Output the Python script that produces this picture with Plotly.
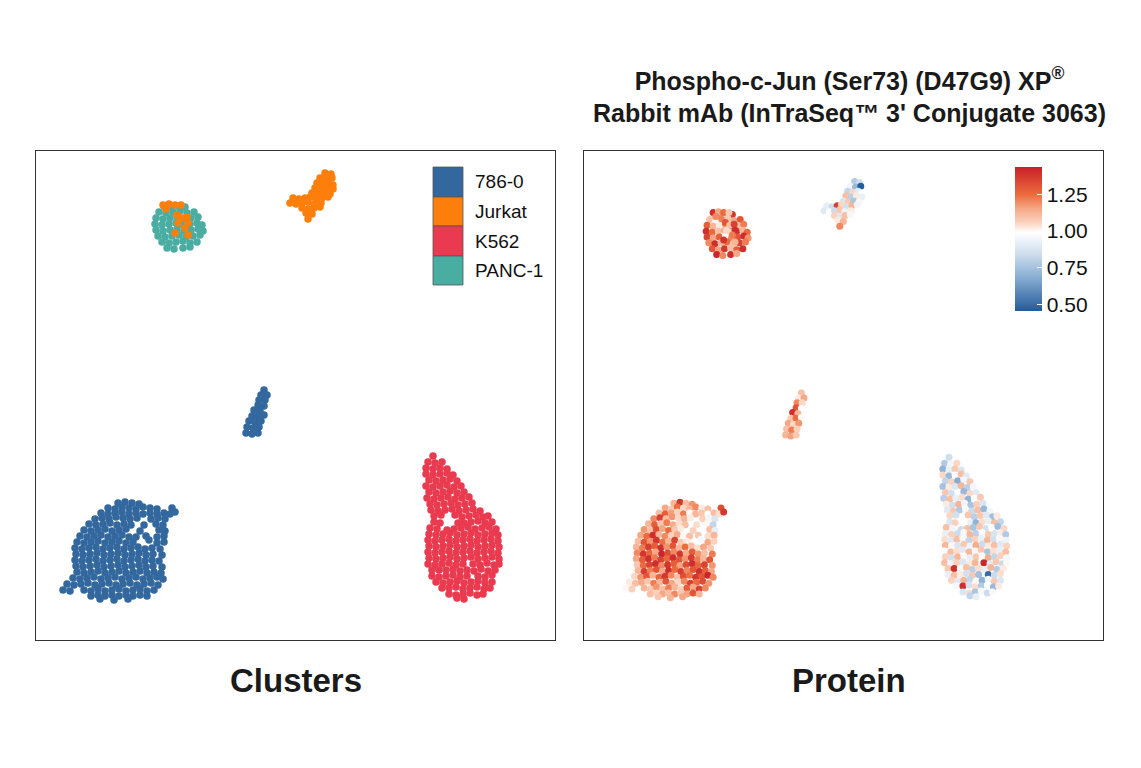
import pandas as pd
import plotly.graph_objects as go

# Cluster names and colours (legend order)
clusters = ["786-0", "Jurkat", "K562", "PANC-1"]
cluster_colors = ["#33689f", "#fd7f0b", "#e93a4f", "#4aada2"]

# Colorbar ticks for the protein panel
protein_ticks = [0.50, 0.75, 1.00, 1.25]
protein_min, protein_max = 0.455, 1.435

# Cells: (umap_1, umap_2, protein signal)
cells_786_main = [
    (82, 352, 1.12), (89, 351, 1.38), (96, 352, 1.10), (103, 353, 1.18),
    (72, 357, 1.15), (79, 358, 1.08), (86, 356, 1.25), (93, 357, 1.05), (100, 358, 1.12), (107, 356, 1.20), (114, 357, 1.02), (121, 358, 1.10), (136, 357, 1.32),
    (65, 362, 1.10), (72, 363, 1.28), (79, 362, 1.16), (86, 361, 1.06), (93, 363, 1.22), (100, 362, 1.00), (107, 363, 1.12), (114, 362, 1.08), (121, 363, 0.98), (128, 362, 1.10), (134, 363, 1.04), (139, 361, 1.38),
    (59, 368, 1.20), (66, 367, 1.35), (73, 368, 1.10), (80, 366, 1.18), (87, 367, 1.05), (94, 368, 1.12), (101, 367, 1.02), (115, 368, 1.06), (122, 367, 0.95), (129, 368, 0.88),
    (53, 373, 1.12), (60, 374, 1.28), (67, 373, 1.08), (74, 372, 1.22), (81, 374, 1.14), (88, 373, 1.04), (95, 374, 1.10), (108, 374, 1.04), (120, 373, 1.00), (127, 374, 0.82),
    (48, 379, 1.18), (55, 380, 1.10), (62, 379, 1.32), (69, 378, 1.15), (76, 380, 1.25), (83, 379, 1.08), (90, 378, 1.02), (104, 380, 1.06), (123, 379, 1.10), (129, 380, 0.92),
    (44, 385, 1.15), (51, 386, 1.25), (58, 385, 1.40), (65, 384, 1.12), (72, 386, 1.20), (79, 385, 1.06), (86, 384, 1.14), (93, 386, 1.00), (100, 386, 1.10), (110, 385, 1.08), (121, 386, 1.04), (128, 385, 1.12),
    (41, 391, 1.10), (48, 392, 1.30), (55, 391, 1.18), (62, 390, 1.38), (69, 392, 1.24), (76, 391, 1.12), (83, 390, 1.35), (90, 392, 1.08), (97, 391, 1.02), (113, 389, 0.96), (121, 392, 1.15), (128, 391, 1.06),
    (39, 397, 1.12), (46, 398, 1.22), (53, 397, 1.36), (60, 396, 1.28), (67, 398, 1.40), (74, 397, 1.18), (81, 396, 1.30), (88, 398, 1.12), (95, 397, 1.25), (102, 396, 1.10), (109, 398, 1.04), (116, 397, 1.15), (124, 398, 1.08),
    (40, 403, 1.20), (47, 404, 1.38), (54, 403, 1.26), (61, 402, 1.15), (68, 404, 1.42), (75, 403, 1.32), (82, 402, 1.20), (89, 404, 1.38), (96, 403, 1.14), (103, 402, 1.28), (110, 404, 1.18), (117, 403, 1.10), (126, 404, 1.22),
    (39, 409, 1.15), (46, 410, 1.28), (53, 409, 1.40), (60, 408, 1.22), (67, 410, 1.35), (74, 409, 1.26), (81, 408, 1.40), (88, 410, 1.30), (95, 409, 1.18), (102, 408, 1.36), (109, 410, 1.22), (116, 409, 1.12), (123, 410, 1.30),
    (40, 415, 1.08), (47, 416, 1.25), (54, 415, 1.34), (61, 414, 1.40), (68, 416, 1.20), (75, 415, 1.38), (82, 414, 1.28), (89, 416, 1.16), (96, 415, 1.32), (103, 414, 1.40), (110, 416, 1.26), (117, 415, 1.35), (126, 416, 1.18),
    (41, 421, 1.12), (48, 422, 1.36), (55, 421, 1.22), (62, 420, 1.30), (69, 422, 1.15), (76, 421, 1.40), (83, 420, 1.25), (90, 422, 1.36), (97, 421, 1.20), (104, 420, 1.30), (111, 422, 1.40), (118, 421, 1.28), (125, 422, 1.15),
    (37, 427, 1.05), (44, 428, 1.18), (51, 427, 1.30), (58, 426, 1.12), (65, 428, 1.26), (72, 427, 1.38), (79, 426, 1.20), (86, 428, 1.10), (93, 427, 1.32), (100, 426, 1.24), (107, 428, 1.38), (114, 427, 1.30), (121, 426, 1.42), (127, 428, 1.20),
    (31, 433, 1.02), (38, 434, 1.10), (45, 433, 1.15), (52, 432, 1.08), (59, 434, 1.22), (66, 433, 1.12), (73, 432, 1.30), (80, 434, 1.15), (87, 433, 1.05), (94, 432, 1.20), (101, 434, 1.36), (108, 433, 1.25), (115, 432, 1.32), (122, 434, 1.18),
    (27, 439, 1.00), (34, 440, 1.06), (48, 439, 1.12), (55, 440, 1.08), (62, 438, 1.18), (69, 440, 1.10), (76, 439, 1.22), (83, 438, 1.12), (90, 440, 1.06), (97, 439, 1.28), (104, 438, 1.15), (111, 440, 1.35), (118, 439, 1.20),
    (55, 445, 1.10), (62, 444, 1.06), (69, 445, 1.15), (76, 444, 1.10), (83, 445, 1.20), (90, 444, 1.08), (97, 445, 1.16), (104, 444, 1.30), (111, 445, 1.12),
    (64, 448, 1.08), (78, 449, 1.12), (92, 448, 1.15),
]

cells_786_small = [
    (228, 239, 1.10), (225, 244, 1.02), (231, 244, 1.15), (223, 249, 1.20), (229, 249, 1.05),
    (222, 254, 1.30), (228, 255, 0.98), (218, 259, 1.40), (224, 260, 1.12), (216, 265, 1.08),
    (222, 265, 1.25), (228, 264, 1.00), (213, 270, 1.15), (219, 271, 1.05), (225, 270, 1.18),
    (211, 276, 1.10), (217, 277, 1.22), (223, 276, 1.06), (210, 282, 1.12), (216, 283, 1.16), (222, 282, 1.08),
]

cells_k562 = [
    (397, 305, 0.85),
    (392, 311, 0.78), (399, 312, 0.95), (406, 311, 1.05),
    (390, 317, 0.70), (397, 318, 0.92), (404, 317, 1.08), (411, 318, 0.88),
    (390, 323, 1.05), (397, 324, 0.72), (404, 323, 0.98), (411, 322, 1.10), (417, 324, 0.90),
    (393, 329, 0.82), (400, 330, 1.06), (407, 329, 0.68), (414, 328, 0.95), (421, 330, 1.08),
    (390, 335, 0.75), (397, 336, 1.02), (404, 335, 0.88), (411, 334, 1.12), (418, 336, 0.80), (425, 335, 0.96),
    (393, 341, 1.08), (400, 342, 0.85), (407, 341, 0.97), (414, 340, 0.72), (421, 342, 1.05), (428, 341, 0.90),
    (391, 347, 0.80), (398, 348, 1.10), (405, 347, 0.92), (412, 346, 1.04), (419, 348, 0.70), (426, 347, 0.98), (433, 346, 1.08),
    (394, 353, 1.02), (401, 354, 0.86), (408, 353, 1.12), (415, 352, 0.95), (422, 354, 0.76), (429, 353, 1.06), (436, 352, 0.88),
    (395, 359, 0.90), (402, 360, 1.08), (409, 359, 0.78), (416, 358, 1.00), (423, 360, 0.84), (430, 359, 1.10), (437, 358, 0.72), (444, 360, 0.95),
    (398, 365, 1.05), (405, 364, 0.86), (419, 364, 1.08), (426, 366, 0.80), (433, 365, 1.08), (440, 364, 0.90), (447, 366, 0.74), (452, 365, 1.02),
    (398, 371, 0.88), (404, 372, 1.06), (422, 372, 0.92), (428, 372, 0.70), (435, 371, 1.04), (442, 370, 0.92), (449, 372, 1.10), (456, 371, 0.82),
    (394, 377, 1.10), (401, 378, 0.95), (411, 379, 0.84), (418, 378, 1.10), (425, 377, 0.76), (432, 376, 1.08), (439, 378, 0.86), (446, 377, 0.98), (453, 376, 0.74), (460, 378, 1.05),
    (393, 383, 0.92), (400, 384, 1.06), (407, 383, 0.84), (414, 382, 1.00), (421, 384, 1.12), (428, 383, 0.80), (435, 382, 0.98), (442, 384, 1.08), (449, 383, 0.88), (456, 382, 1.02), (462, 384, 0.78),
    (392, 389, 1.04), (399, 390, 0.90), (406, 389, 1.10), (413, 388, 0.96), (420, 390, 0.82), (427, 389, 1.06), (434, 388, 0.92), (441, 390, 1.12), (448, 389, 0.86), (455, 388, 1.00), (462, 390, 0.94),
    (393, 395, 1.12), (400, 396, 1.00), (407, 395, 0.88), (414, 394, 1.08), (421, 396, 0.94), (428, 395, 1.14), (435, 394, 0.84), (442, 396, 1.02), (449, 395, 1.10), (456, 394, 0.90), (463, 396, 1.06),
    (392, 401, 0.98), (399, 402, 1.10), (406, 401, 1.04), (413, 400, 0.90), (420, 402, 1.12), (427, 401, 0.96), (434, 400, 1.08), (441, 402, 0.76), (448, 401, 1.04), (455, 400, 0.92), (462, 402, 1.10),
    (393, 407, 1.06), (400, 408, 0.86), (407, 407, 1.12), (414, 406, 1.00), (421, 408, 0.92), (428, 407, 1.08), (435, 406, 0.98), (442, 408, 1.14), (449, 407, 0.82), (456, 406, 1.06), (463, 408, 0.96),
    (392, 413, 1.10), (399, 414, 0.94), (406, 413, 1.06), (413, 412, 0.88), (420, 414, 1.02), (427, 413, 1.12), (437, 413, 1.42), (444, 414, 0.90), (451, 412, 1.08), (458, 414, 0.84), (463, 413, 1.00),
    (396, 419, 1.08), (403, 419, 1.40), (410, 419, 0.96), (417, 418, 1.10), (424, 420, 0.80), (431, 419, 1.04), (438, 420, 0.92), (445, 418, 1.12), (452, 420, 0.78), (459, 419, 1.02),
    (396, 425, 0.92), (403, 426, 1.10), (410, 425, 1.02), (417, 424, 0.86), (424, 426, 1.08), (431, 425, 0.74), (442, 425, 0.50), (449, 426, 0.84), (456, 424, 1.04),
    (400, 431, 1.06), (407, 432, 0.90), (414, 431, 1.12), (421, 430, 0.82), (428, 432, 1.00), (435, 431, 0.70), (442, 430, 0.94), (449, 432, 1.08), (456, 431, 0.88),
    (406, 437, 0.96), (413, 437, 1.40), (420, 436, 0.86), (427, 438, 1.04), (434, 437, 0.78), (441, 436, 0.98), (448, 438, 0.72), (454, 437, 1.02),
    (413, 443, 0.88), (420, 444, 1.04), (427, 443, 0.76), (434, 442, 0.96), (441, 444, 0.84), (447, 443, 1.00),
    (421, 447, 0.82), (428, 448, 0.92),
]

cells_panc1 = [
    (128, 55, 1.12), (135, 56, 1.20), (142, 55, 1.05), (149, 56, 1.38),
    (123, 61, 1.10), (130, 62, 0.95), (137, 61, 1.22), (144, 60, 1.08), (151, 62, 1.15), (158, 61, 1.30),
    (120, 67, 1.28), (127, 68, 1.12), (134, 67, 1.02), (141, 66, 1.18), (148, 68, 1.35), (155, 67, 1.10), (162, 66, 1.22),
    (119, 73, 1.40), (126, 74, 1.25), (133, 73, 1.10), (140, 72, 1.15), (147, 74, 1.05), (154, 73, 1.38), (161, 72, 1.12), (166, 74, 1.25),
    (120, 79, 1.35), (127, 80, 1.15), (134, 79, 1.28), (141, 78, 1.00), (148, 80, 1.20), (155, 79, 1.30), (162, 78, 1.40), (167, 80, 1.18),
    (122, 85, 1.20), (129, 86, 1.40), (136, 85, 1.12), (143, 84, 1.25), (150, 86, 1.08), (157, 85, 1.35), (164, 84, 1.22),
    (126, 91, 1.30), (133, 92, 1.16), (140, 91, 1.38), (147, 90, 1.10), (154, 92, 1.28), (161, 91, 1.40),
    (131, 97, 1.42), (138, 98, 1.20), (147, 97, 1.40), (154, 96, 1.15),
]

cells_jurkat = [
    (289, 22, 0.78), (295, 23, 0.85),
    (284, 27, 0.95), (290, 28, 0.72), (296, 27, 0.46),
    (281, 32, 0.82), (287, 33, 1.05), (293, 32, 0.90), (297, 34, 0.98),
    (279, 37, 1.10), (285, 38, 0.80), (291, 37, 1.02), (297, 38, 0.92),
    (276, 42, 0.88), (282, 43, 1.08), (288, 42, 0.76), (294, 43, 1.00),
    (257, 47, 0.92), (263, 48, 0.85), (269, 47, 1.35), (274, 46, 1.05), (280, 48, 0.86), (286, 47, 1.12), (292, 46, 0.95),
    (254, 52, 0.90), (260, 53, 0.98), (266, 52, 0.84), (272, 51, 1.08), (278, 53, 0.94), (285, 52, 1.02),
    (266, 57, 1.06), (272, 58, 0.88), (278, 57, 1.10), (284, 56, 0.96),
    (270, 62, 1.02), (276, 63, 1.12),
    (272, 68, 1.20),
    # Jurkat cells that land on top of the PANC-1 island
    (127, 54, 1.40), (133, 53, 1.15), (139, 54, 1.25), (145, 54, 1.08), (130, 58, 1.20),
    (141, 64, 1.30), (146, 67, 1.10), (151, 66, 1.35), (142, 72, 1.05),
    (152, 72, 1.40), (149, 77, 1.22), (139, 82, 1.38), (152, 84, 1.12),
]

# Build one table of cells; drawing order keeps Jurkat above PANC-1
frames = []
for name, cell_list in [("786-0", cells_786_main + cells_786_small), ("K562", cells_k562),
                        ("PANC-1", cells_panc1), ("Jurkat", cells_jurkat)]:
    df = pd.DataFrame(cell_list, columns=["umap_1", "umap_2", "protein"])
    df["cluster"] = name
    frames.append(df)
cells = pd.concat(frames, ignore_index=True)

FONT = "Liberation Sans, Arial, sans-serif"

fig = go.Figure()

# Left panel: cells coloured by cluster
for name in ["786-0", "K562", "PANC-1", "Jurkat"]:
    sub = cells[cells["cluster"] == name]
    fig.add_trace(go.Scatter(
        x=sub["umap_1"], y=sub["umap_2"], mode="markers",
        marker=dict(size=7.5, color=cluster_colors[clusters.index(name)]),
        name=name, showlegend=False, xaxis="x", yaxis="y",
    ))

# Right panel: cells coloured by protein signal
protein_scale = [
    [0.0, "#245a9a"], [0.25, "#8fb3d6"], [0.40, "#cfdeed"], [0.545, "#ffffff"],
    [0.615, "#fbd2bd"], [0.71, "#f5a886"], [0.81, "#ec6a3c"], [1.0, "#c8202a"],
]
fig.add_trace(go.Scatter(
    x=cells["umap_1"], y=cells["umap_2"], mode="markers",
    marker=dict(
        size=7, color=cells["protein"], colorscale=protein_scale,
        cmin=protein_min, cmax=protein_max, showscale=True,
        colorbar=dict(
            x=1015 / 1141, xanchor="left", y=(768 - 239) / 768, yanchor="middle",
            thickness=27, lenmode="pixels", len=144, outlinewidth=0,
            xpad=0, ypad=0, tickvals=protein_ticks, tickformat=".2f",
            ticks="inside", ticklen=5, tickcolor="white",
            tickfont=dict(family=FONT, size=21, color="#111"),
        ),
    ),
    showlegend=False, xaxis="x2", yaxis="y2",
))

axis_style = dict(showgrid=False, zeroline=False, showticklabels=False, ticks="",
                  showline=True, mirror=True, linecolor="#333", linewidth=1)

fig.update_layout(
    width=1141, height=768,
    margin=dict(l=0, r=0, t=0, b=0),
    paper_bgcolor="white", plot_bgcolor="white",
    xaxis=dict(domain=[36 / 1141, 555 / 1141], range=[0, 519], **axis_style),
    yaxis=dict(domain=[128 / 768, 617 / 768], range=[489, 0], **axis_style),
    xaxis2=dict(domain=[584 / 1141, 1103 / 1141], range=[-20.9, 573.4], **axis_style),
    yaxis2=dict(domain=[128 / 768, 617 / 768], range=[492.3, -9.2], anchor="x2", **axis_style),
)

# Panel captions
caption_font = dict(family=FONT, size=33, color="#1a1a1a")
fig.add_annotation(text="<b>Clusters</b>", x=296 / 1141, y=(768 - 680) / 768, xref="paper", yref="paper",
                   xanchor="center", yanchor="middle", showarrow=False, font=caption_font)
fig.add_annotation(text="<b>Protein</b>", x=849 / 1141, y=(768 - 680) / 768, xref="paper", yref="paper",
                   xanchor="center", yanchor="middle", showarrow=False, font=caption_font)
fig.add_annotation(text="<b>Phospho-c-Jun (Ser73) (D47G9) XP<sup>®</sup></b><br><b>Rabbit mAb (InTraSeq™ 3' Conjugate 3063)</b>",
                   x=849 / 1141, y=(768 - 95) / 768, xref="paper", yref="paper",
                   xanchor="center", yanchor="middle", showarrow=False,
                   font=dict(family=FONT, size=25, color="#1a1a1a"))

# Legend drawn as tall swatches inside the left panel
swatch_top = [167, 197, 226, 256, 285]
for i, name in enumerate(clusters):
    fig.add_shape(type="rect", xref="paper", yref="paper",
                  x0=433 / 1141, x1=463 / 1141,
                  y0=(768 - swatch_top[i + 1]) / 768, y1=(768 - swatch_top[i]) / 768,
                  fillcolor=cluster_colors[i], line=dict(color="#555", width=0.8))
    fig.add_annotation(text=name, x=473 / 1141, y=(768 - (swatch_top[i] + swatch_top[i + 1]) / 2) / 768,
                       xref="paper", yref="paper", xanchor="left", yanchor="middle", showarrow=False,
                       font=dict(family=FONT, size=19, color="#111"))

# Drop the browser's default page margin so the figure sits at the window corner
fig.write_html("out.html", config={"displayModeBar": False},
               post_script="document.body.style.margin = '0';")
